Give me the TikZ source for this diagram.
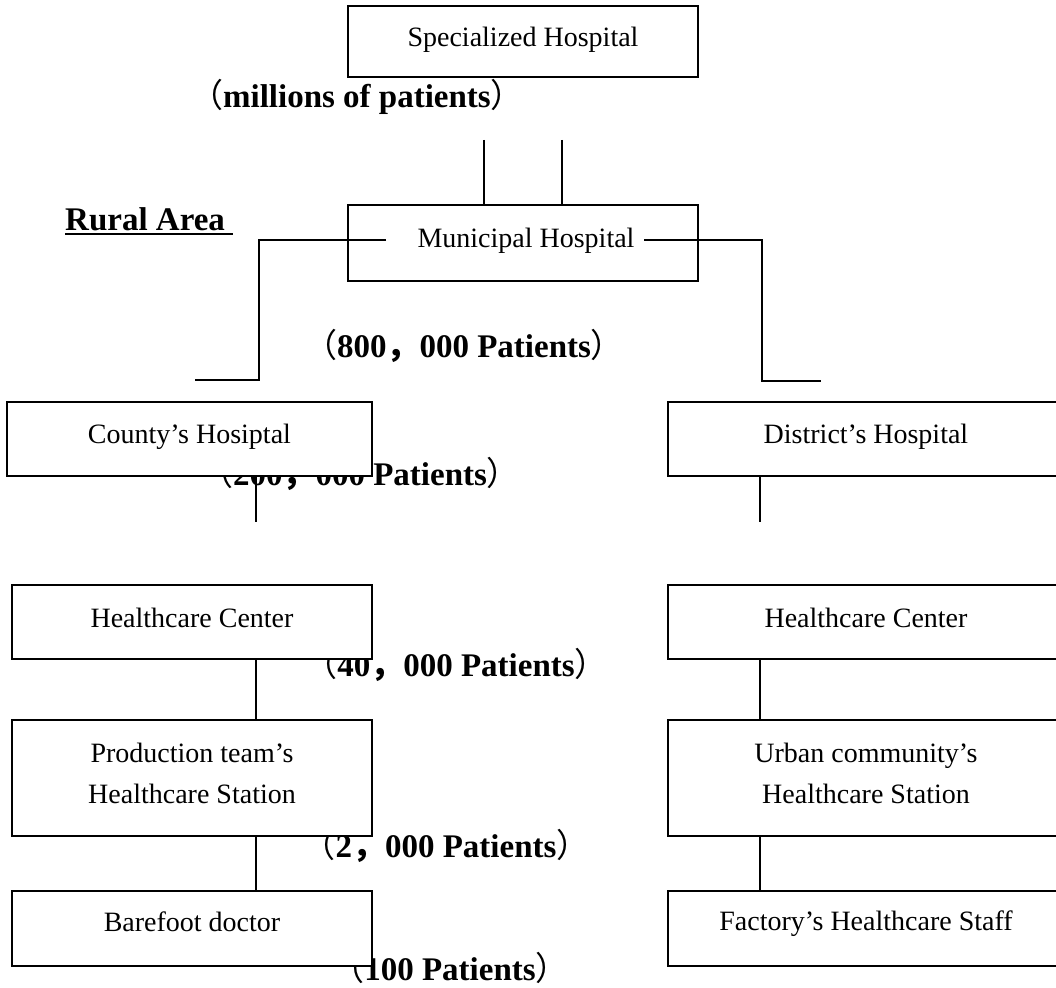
\documentclass[tikz,border=0pt]{standalone}
\usepackage{fontspec}
\setmainfont{Liberation Serif}
\newfontfamily\cjkf{Noto Sans CJK SC}
\newcommand\fwl{{\cjkf\mdseries （}}
\newcommand\fwr{{\cjkf\mdseries ）}}
\newcommand\fwc{{\cjkf ，}}
\newcommand\ulbox[1]{\setbox0=\hbox{#1}\rlap{\rule[-5pt]{\wd0}{2pt}}\box0}
\tikzset{
  box/.style={draw, fill=white, line width=2pt, inner sep=0pt, outer sep=0pt},
  reg/.style={font=\fontsize{28}{34}\selectfont, inner sep=0pt, anchor=base},
  pat/.style={font=\bfseries\fontsize{33}{40}\selectfont, inner sep=0pt, anchor=base},
  conn/.style={line width=1.7pt},
}
\begin{document}
\begin{tikzpicture}[x=1pt,y=-1pt]
\useasboundingbox (0,0) rectangle (1056,987);
\clip (0,0) rectangle (1056,987);
\fill[white] (0,0) rectangle (1056,987);

% patient-count labels (drawn first, boxes cover parts of them)
\node[pat] (pmil) at (357,108) {\fwl millions of patients\fwr};
\node[pat] (p800) at (464,357) {\fwl 800\fwc 000 Patients\fwr};
\node[pat] (p200) at (360,485) {\fwl 200\fwc 000 Patients\fwr};
\node[pat] (p40)  at (456,676) {\fwl 40\fwc 000 Patients\fwr};
\node[pat] (p2)   at (446,857) {\fwl 2\fwc 000 Patients\fwr};
\node[pat] (p100) at (450,980) {\fwl 100 Patients\fwr};
\node[pat, anchor=base west] (rural) at (65,230) {\ulbox{Rural Area\ }};

% boxes
\node[box, minimum width=350pt, minimum height=71pt]  (spec)  at (523,41.5) {};
\node[box, minimum width=350pt, minimum height=76pt]  (muni)  at (523,243) {};
\node[box, minimum width=365pt, minimum height=74pt]  (cty)   at (189.5,439) {};
\node[box, minimum width=396pt, minimum height=74pt]  (dst)   at (866,439) {};
\node[box, minimum width=360pt, minimum height=74pt]  (hcL)   at (192,622) {};
\node[box, minimum width=396pt, minimum height=74pt]  (hcR)   at (866,622) {};
\node[box, minimum width=360pt, minimum height=116pt] (prodL) at (192,778) {};
\node[box, minimum width=396pt, minimum height=116pt] (urbR)  at (866,778) {};
\node[box, minimum width=360pt, minimum height=75pt]  (barL)  at (192,928.5) {};
\node[box, minimum width=396pt, minimum height=75pt]  (facR)  at (866,928.5) {};

% box texts
\node[reg] (tspec) at (523,47) {Specialized Hospital};
\node[reg] (tmuni) at (526,247) {Municipal Hospital};
\node[reg] (tcty)  at (189.5,443) {County’s Hosiptal};
\node[reg] (tdst)  at (866,443) {District’s Hospital};
\node[reg] (thcL)  at (192,627) {Healthcare Center};
\node[reg] (thcR)  at (866,627) {Healthcare Center};
\node[reg] (tprodA) at (192,762) {Production team’s};
\node[reg] (tprodB) at (192,803) {Healthcare Station};
\node[reg] (turbA) at (866,762) {Urban community’s};
\node[reg] (turbB) at (866,803) {Healthcare Station};
\node[reg] (tbar)  at (192,931) {Barefoot doctor};
\node[reg] (tfac)  at (866,930) {Factory’s Healthcare Staff};

% connectors
\coordinate (s1) at (484,140);
\coordinate (s2) at (562,140);
\draw[conn] (s1) -- (s1 |- muni.north);
\draw[conn] (s2) -- (s2 |- muni.north);

\coordinate (mlA) at (386,240);
\coordinate (mlK) at (259,380);
\coordinate (mlB) at (195,380);
\draw[conn] (mlA) -| (mlK) -- (mlB);
\coordinate (mrA) at (644,240);
\coordinate (mrK) at (762,381);
\coordinate (mrB) at (821,381);
\draw[conn] (mrA) -| (mrK) -- (mrB);

\coordinate (cL) at (256,522);
\coordinate (cR) at (760,522);
\draw[conn] (cL |- cty.south) -- (cL);
\draw[conn] (cR |- dst.south) -- (cR);

\draw[conn] (cL |- hcL.south) -- (cL |- prodL.north);
\draw[conn] (cR |- hcR.south) -- (cR |- urbR.north);
\draw[conn] (cL |- prodL.south) -- (cL |- barL.north);
\draw[conn] (cR |- urbR.south) -- (cR |- facR.north);
\end{tikzpicture}
\end{document}
